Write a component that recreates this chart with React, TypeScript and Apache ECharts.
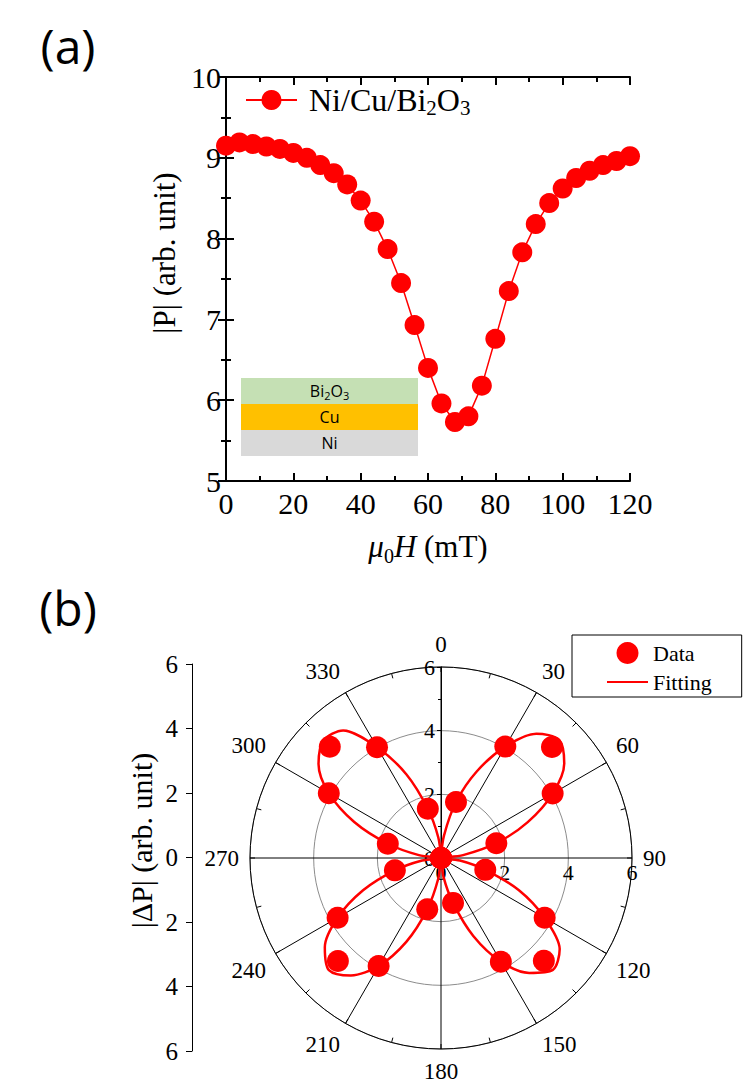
import React, { useEffect, useRef } from 'react';
import * as echarts from 'echarts';

// ---------- (a) data ----------
const fieldMT = [0, 4, 8, 12, 16, 20, 24, 28, 32, 36, 40, 44, 48, 52, 56, 60, 64, 68, 72, 76, 80, 84, 88, 92, 96, 100, 104, 108, 112, 116, 120];
const pAbs = [9.15, 9.19, 9.17, 9.14, 9.11, 9.06, 9.0, 8.91, 8.81, 8.67, 8.47, 8.21, 7.87, 7.45, 6.93, 6.4, 5.96, 5.73, 5.8, 6.18, 6.76, 7.35, 7.83, 8.18, 8.44, 8.62, 8.75, 8.84, 8.91, 8.96, 9.02];
const xTicksA = [0, 20, 40, 60, 80, 100, 120];
const yTicksA = [5, 6, 7, 8, 9, 10];
const layers = ['Bi{s|2}O{s|3}', 'Cu', 'Ni'];

// ---------- (b) data ----------
const dataAngle = [0, 15, 30, 45, 60, 75, 90, 105, 120, 135, 150, 165, 180, 195, 210, 225, 240, 255, 270, 285, 300, 315, 330, 345];
const dataDP = [0, 1.82, 4.04, 4.93, 4.05, 1.8, 0, 1.44, 3.76, 4.57, 3.76, 1.46, 0, 1.67, 3.92, 4.58, 3.75, 1.5, 0, 1.73, 4.07, 4.94, 4.02, 1.6];
const fitAngle = [0, 7.5, 15, 22.5, 30, 37.5, 45, 52.5, 60, 67.5, 75, 82.5, 90, 97.5, 105, 112.5, 120, 127.5, 135, 142.5, 150, 157.5, 165, 172.5, 180, 187.5, 195, 202.5, 210, 217.5, 225, 232.5, 240, 247.5, 255, 262.5, 270, 277.5, 285, 292.5, 300, 307.5, 315, 322.5, 330, 337.5, 345, 352.5, 360];
const fitDP = [0, 0.7, 1.82, 2.95, 4.04, 4.92, 5.25, 4.88, 4.05, 2.95, 1.8, 0.7, 0, 0.6, 1.44, 2.65, 3.76, 4.7, 4.97, 4.55, 3.76, 2.65, 1.46, 0.6, 0, 0.65, 1.67, 2.85, 3.92, 4.65, 4.98, 4.6, 3.75, 2.65, 1.5, 0.6, 0, 0.7, 1.73, 2.95, 4.07, 4.85, 5.22, 5.05, 4.02, 2.85, 1.6, 0.65, 0];

const serif = 'Liberation Serif';
const sans = 'Open Sans';
const RED = '#ff0000';

export default function App() {
  const ref = useRef<HTMLDivElement>(null);
  useEffect(() => {
    document.body.style.margin = '0';
    const chart = echarts.init(ref.current!, null, { renderer: 'svg' });
    const blackLine = { color: '#000', width: 2 };
    const option: any = {
      animation: false,
      backgroundColor: '#fff',
      grid: [
        { left: 226, top: 77, width: 404, height: 404 },
        { left: 192, top: 664, width: 10, height: 387 },
        { left: 441, top: 857, width: 191, height: 1 },
      ],
      xAxis: [
        {
          gridIndex: 0, type: 'value', min: xTicksA[0], max: xTicksA[xTicksA.length - 1], interval: 20, position: 'bottom',
          axisLine: { lineStyle: blackLine },
          axisTick: { inside: true, length: 8, lineStyle: blackLine },
          minorTick: { show: true, splitNumber: 2, length: 5, lineStyle: blackLine },
          axisLabel: { fontFamily: serif, fontSize: 30, color: '#000', margin: 7 },
          splitLine: { show: false },
          name: '{i|μ}{s|0}{i|H} (mT)', nameLocation: 'middle', nameGap: 45,
          nameTextStyle: {
            fontFamily: serif, fontSize: 31, color: '#000',
            rich: {
              i: { fontFamily: serif, fontSize: 31, fontStyle: 'italic', color: '#000' },
              s: { fontFamily: serif, fontSize: 20, color: '#000', padding: [20, 0, 0, 0] },
            },
          },
        },
        {
          gridIndex: 0, type: 'value', min: 0, max: 120, interval: 20, position: 'top',
          axisLine: { lineStyle: blackLine },
          axisTick: { inside: true, length: 8, lineStyle: blackLine },
          minorTick: { show: true, splitNumber: 2, length: 5, lineStyle: blackLine },
          axisLabel: { show: false }, splitLine: { show: false },
        },
        { gridIndex: 1, type: 'value', show: false, min: 0, max: 1 },
        {
          gridIndex: 2, type: 'value', min: 0, max: 6, interval: 2,
          axisLine: { show: false }, axisTick: { show: false }, splitLine: { show: false },
          axisLabel: { fontFamily: serif, fontSize: 22, color: '#000', margin: 3 },
        },
      ],
      yAxis: [
        {
          gridIndex: 0, type: 'value', min: yTicksA[0], max: yTicksA[yTicksA.length - 1], interval: 1, position: 'left',
          axisLine: { lineStyle: blackLine },
          axisTick: { inside: true, length: 8, lineStyle: blackLine },
          minorTick: { show: true, splitNumber: 2, length: 5, lineStyle: blackLine },
          axisLabel: { fontFamily: serif, fontSize: 30, color: '#000', margin: 5 },
          splitLine: { show: false },
          name: '|P| (arb. unit)', nameLocation: 'middle', nameGap: 45,
          nameTextStyle: { fontFamily: serif, fontSize: 31, color: '#000', padding: [0, 0, 0, 52] },
        },
        {
          gridIndex: 0, type: 'value', min: 5, max: 10, interval: 1, position: 'right',
          axisLine: { lineStyle: blackLine },
          axisTick: { inside: true, length: 8, lineStyle: blackLine },
          minorTick: { show: true, splitNumber: 2, length: 5, lineStyle: blackLine },
          axisLabel: { show: false }, splitLine: { show: false },
        },
        {
          gridIndex: 1, type: 'value', min: -6, max: 6, interval: 2, position: 'left',
          axisLine: { lineStyle: { color: '#000', width: 1 } },
          axisTick: { length: 6, lineStyle: { color: '#000', width: 1 } },
          axisLabel: { fontFamily: serif, fontSize: 25, color: '#000', margin: 14, formatter: (v: number) => String(Math.abs(v)) },
          splitLine: { show: false },
          name: '|ΔP| (arb. unit)', nameLocation: 'middle', nameGap: 36,
          nameTextStyle: { fontFamily: serif, fontSize: 30, color: '#000', padding: [0, 0, 0, 34] },
        },
        { gridIndex: 2, type: 'value', show: false, min: 0, max: 1 },
      ],
      polar: { center: [441, 858], radius: 191 },
      angleAxis: {
        type: 'value', startAngle: 90, clockwise: true, min: 0, max: 360, interval: 30,
        axisLine: { lineStyle: { color: '#000', width: 1 } },
        axisTick: { show: true, inside: true, length: 5, lineStyle: { color: '#000', width: 1 } },
        minorTick: { show: true, splitNumber: 2, length: 5, lineStyle: { color: '#000', width: 1 } },
        splitLine: { show: true, lineStyle: { color: '#000', width: 1 } },
        axisLabel: { fontFamily: serif, fontSize: 23, color: '#000', margin: 11, formatter: (v: number) => (v === 360 ? '' : String(v)) },
      },
      radiusAxis: {
        type: 'value', min: 0, max: 6, interval: 2,
        axisLine: { show: true, lineStyle: { color: '#000', width: 1 } },
        axisTick: { show: true, length: 4, lineStyle: { color: '#000', width: 1 } },
        minorTick: { show: true, splitNumber: 2, length: 3, lineStyle: { color: '#000', width: 1 } },
        splitLine: { show: true, lineStyle: { color: '#8c8c8c', width: 1 } },
        axisLabel: { fontFamily: serif, fontSize: 22, color: '#000', margin: 6 },
      },
      legend: [
        {
          data: ['Ni/Cu/Bi2O3'], left: 245, top: 84, itemWidth: 51, itemHeight: 25, padding: 0,
          formatter: () => 'Ni/Cu/Bi{s|2}O{s|3}',
          textStyle: {
            fontFamily: serif, fontSize: 32, color: '#000', padding: [0, 0, 0, 7],
            rich: { s: { fontFamily: serif, fontSize: 21, color: '#000', padding: [16, 0, 0, 0] } },
          },
        },
        {
          data: [{ name: 'Data' }, { name: 'Fitting', itemStyle: { opacity: 0 } }],
          orient: 'vertical', left: 572, top: 635, itemWidth: 41, itemHeight: 22, itemGap: 7,
          borderColor: '#000', borderWidth: 1, padding: [7, 30, 4, 34],
          textStyle: { fontFamily: serif, fontSize: 22, color: '#000' },
        },
      ],
      graphic: [
        { type: 'text', x: 68, y: 45, style: { text: '(a)', font: `48px "${sans}"`, fill: '#000', align: 'center', verticalAlign: 'middle' } },
        { type: 'text', x: 68, y: 607, style: { text: '(b)', font: `48px "${sans}"`, fill: '#000', align: 'center', verticalAlign: 'middle' } },
        { type: 'rect', shape: { x: 241, y: 378, width: 177, height: 26 }, style: { fill: '#C5E0B4' } },
        { type: 'rect', shape: { x: 241, y: 404, width: 177, height: 26 }, style: { fill: '#FFC000' } },
        { type: 'rect', shape: { x: 241, y: 430, width: 177, height: 26 }, style: { fill: '#D9D9D9' } },
        ...layers.map((t, i) => ({
          type: 'text', x: 329.5, y: 391 + 26 * i,
          style: {
            text: t, fontFamily: sans, fontSize: 16, fill: '#000', align: 'center', verticalAlign: 'middle',
            rich: { s: { fontFamily: sans, fontSize: 11, fill: '#000', padding: [8, 0, 0, 0] } },
          },
        })),
      ],
      series: [
        {
          name: 'Ni/Cu/Bi2O3', type: 'line', xAxisIndex: 0, yAxisIndex: 0,
          data: fieldMT.map((x, i) => [x, pAbs[i]]),
          symbol: 'circle', symbolSize: 20,
          lineStyle: { color: RED, width: 1.5 }, itemStyle: { color: RED },
        },
        {
          name: 'Fitting', type: 'line', coordinateSystem: 'polar', smooth: 0.3, symbol: 'none',
          data: fitAngle.map((a, i) => [fitDP[i], a]),
          lineStyle: { color: RED, width: 2.5 }, itemStyle: { color: RED }, z: 3,
        },
        {
          name: 'Data', type: 'scatter', coordinateSystem: 'polar', symbol: 'circle', symbolSize: 22,
          data: dataAngle.map((a, i) => [dataDP[i], a]),
          itemStyle: { color: RED, opacity: 1 }, z: 4,
        },
      ],
    };
    chart.setOption(option);
    return () => chart.dispose();
  }, []);
  return <div ref={ref} style={{ width: 749, height: 1088 }} />;
}
